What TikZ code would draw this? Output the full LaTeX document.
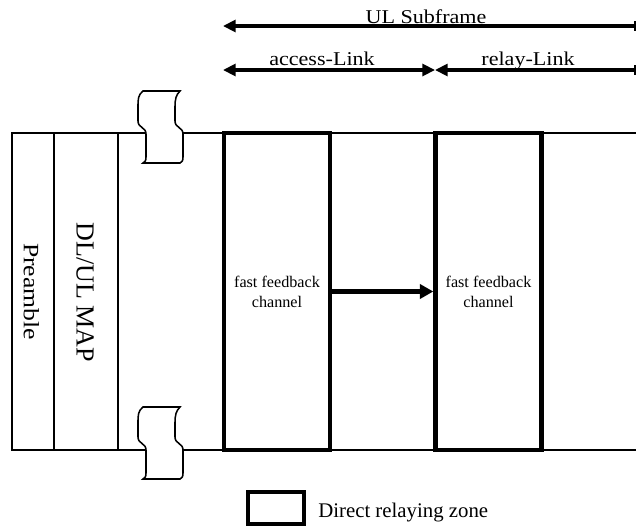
\documentclass[tikz,border=0pt]{standalone}
\usepackage{fontspec}
\setmainfont{Liberation Serif}
\usetikzlibrary{arrows.meta, positioning, calc}
\tikzset{
  zone/.style={rectangle, draw, line width=3.1pt, minimum width=2.65cm, minimum height=7.925cm, align=center, inner sep=0pt, font=\fontsize{11.5}{14.2}\selectfont},
  frameline/.style={line width=1pt},
  dimarrow/.style={{Triangle[length=9pt, width=8.5pt]}-{Bar[width=7pt, line width=1pt]}, line width=2.2pt},
  twoway/.style={{Triangle[length=9pt, width=8.5pt]}-{Triangle[length=9pt, width=8.5pt]}, line width=2.2pt},
  flow/.style={-{Triangle[length=9.5pt, width=10pt]}, line width=3pt},
  lbl/.style={font=\fontsize{13.9}{16}\selectfont, inner sep=0pt, anchor=base, xscale=1.13},
}

\begin{document}
\begin{tikzpicture}[x=0.025cm, y=-0.025cm,
  cell/.style={inner sep=0pt, rotate=-90},
  breaker/.style={draw, fill=white, line width=1.1pt}
]
  \useasboundingbox (0,0) rectangle (636,527);

  % Subframe dimensions
  \coordinate (ulL) at (223,26);
  \coordinate (ulR) at (635.5,26);
  \coordinate (accL) at (223,70);
  \coordinate (split) at (435,70);
  \coordinate (relR) at (635.5,70);

  \draw[dimarrow] (ulL) -- (ulR);
  \draw[twoway] (accL) -- (split);
  \draw[dimarrow] (split) -- (relR);

  \node[lbl] (ultxt) at (426,23) {UL Subframe};
  \node[lbl] (acctxt) at (322,65) {access-Link};
  \node[lbl] (reltxt) at (528,65) {relay-Link};

  % Frame
  \draw[frameline] (636,133) -- (12,133) -- (12,450) -- (636,450);
  \draw[frameline] (54,133) -- (54,450);
  \draw[frameline] (118,133) -- (118,450);

  \node[cell, xscale=1.17, font=\fontsize{15.6}{18}\selectfont] (pre) at (31.5,291.5) {Preamble};
  \node[cell, font=\fontsize{18.5}{21}\selectfont] (map) at (85,292.5) {DL/UL MAP};

  % Break marks
  \foreach \ytop in {91,407} {
    \draw[breaker, shift={(143,\ytop)}] (0,0) .. controls (-5,4) and (-5,8) .. (-5,16) -- (-5,30)
      .. controls (-5,37) and (3,36) .. (3,43) -- (3,66) .. controls (3,70) and (2,71) .. (0,72)
      -- (37,72) .. controls (39,71) and (40,70) .. (40,66) -- (40,43)
      .. controls (40,36) and (32,37) .. (32,30) -- (32,16) .. controls (32,8) and (33,4) .. (37,0) -- cycle;
  }

  % Relaying zones
  \node[zone] (ffa) at (277,291.5) {fast feedback\\channel};
  \node[zone] (ffr) at (488.5,291.5) {fast feedback\\channel};
  \draw[flow] (ffa) -- (ffr);

  % Legend
  \node[zone, minimum width=1.4cm, minimum height=0.8cm] (key) at (276,508) {};
  \node[font=\fontsize{14.8}{17}\selectfont, inner sep=0pt, anchor=base west] (keytxt) at (318,517) {Direct relaying zone};
\end{tikzpicture}
\end{document}
